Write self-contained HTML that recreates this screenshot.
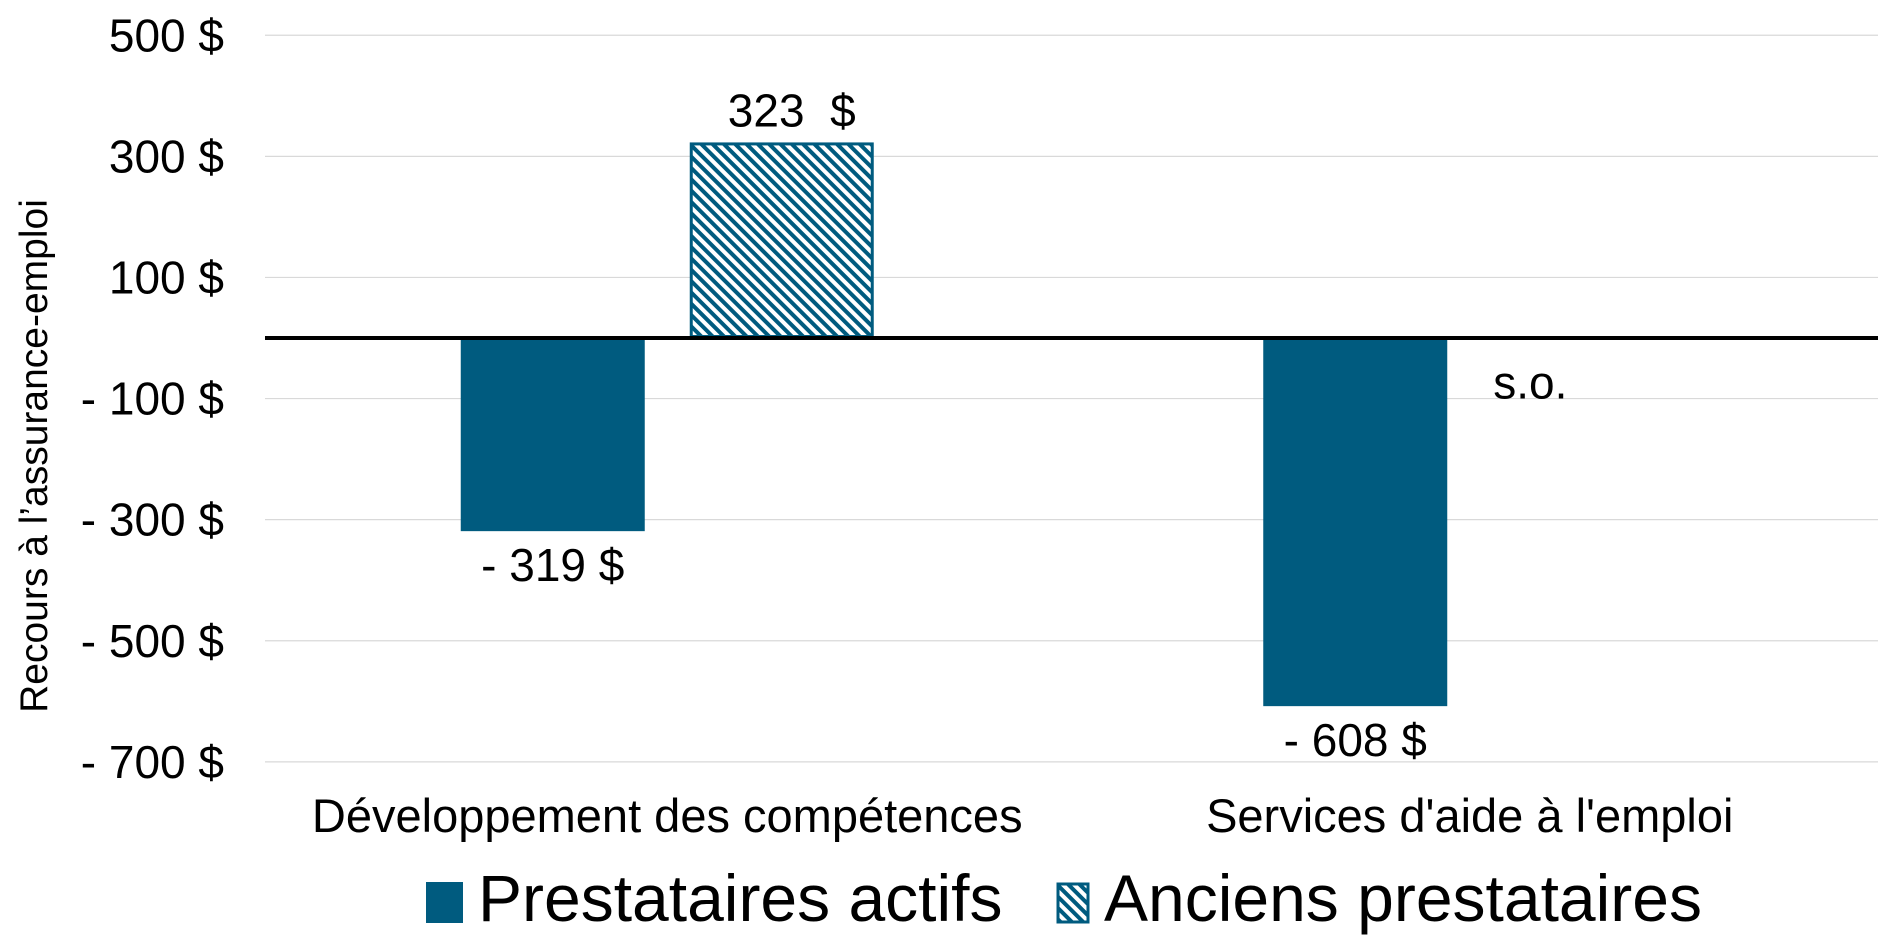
<!DOCTYPE html>
<html><head><meta charset="utf-8"><style>
html,body{margin:0;padding:0;background:#fff;}
svg{display:block;font-family:"Liberation Sans",Arial,sans-serif;}
text{white-space:pre;}
</style></head><body>
<svg id="chart" width="1890" height="945" viewBox="0 0 1890 945">
<defs>
<pattern id="hatch" patternUnits="userSpaceOnUse" width="8" height="8" patternTransform="rotate(-45)">
<rect width="8" height="8" fill="#fff"/>
<rect x="0" y="0" width="4" height="8" fill="#005b7f"/>
</pattern>
</defs>
<g id="grid"></g>
<g id="bars"></g>
<g id="labels"></g>
<text transform="translate(47,456) rotate(-90)" text-anchor="middle" font-size="39" fill="#000">Recours à l’assurance-emploi</text>
<g>
<g>
<rect x="426" y="882" width="37" height="41" fill="#005b7f"/>
<text x="478" y="921" font-size="66" fill="#000">Prestataires actifs</text>
</g>
<g>
<rect x="1058" y="884" width="30" height="38" fill="url(#hatch)" stroke="#005b7f" stroke-width="3"/>
<text x="1104" y="921" font-size="66" fill="#000">Anciens prestataires</text>
</g>
</g>
</svg>
<script>
const categories = ["Développement des compétences", "Services d'aide à l'emploi"];
const activeValues = [-319, -608];
const formerValues = [323, null];
const activeLabels = ["- 319 $", "- 608 $"];
const formerLabels = ["323  $", "s.o."];
const ticks = [500, 300, 100, -100, -300, -500, -700];
const tickLabels = ["500 $", "300 $", "100 $", "- 100 $", "- 300 $", "- 500 $", "- 700 $"];

const NS = "http://www.w3.org/2000/svg";
const gridL = 265, gridR = 1878;
const bandL = 266, bandR = 1871;
const y0 = 338, pxPer = 0.6055;
const y = v => y0 - v * pxPer;
const band = (bandR - bandL) / categories.length;
const xc = i => bandL + band * (i + 0.5);
const barW = 184, gap = 45;
function mk(tag, attrs, parent) {
  const e = document.createElementNS(NS, tag);
  for (const k in attrs) e.setAttribute(k, attrs[k]);
  parent.appendChild(e);
  return e;
}
const grid = document.getElementById('grid');
const bars = document.getElementById('bars');
const labels = document.getElementById('labels');
ticks.forEach((t, i) => {
  const l = mk('line', {x1: gridL, x2: gridR, y1: y(t), y2: y(t), stroke: '#d9d9d9', 'stroke-width': 1.2}, grid);
  
  
  const tx = mk('text', {x: 224, y: y(t) + 16, 'text-anchor': 'end', 'font-size': 46, fill: '#000'}, labels);
  tx.textContent = tickLabels[i];
  
  
});
categories.forEach((c, i) => {
  const cx = xc(i);
  const ax = cx - gap / 2 - barW;
  const av = activeValues[i];
  const r = mk('rect', {x: ax, y: Math.min(y(0), y(av)), width: barW, height: Math.abs(y(av) - y(0)), fill: '#005b7f'}, bars);
  
  
  const at = mk('text', {x: ax + barW / 2, y: y(av) + (av < 0 ? 50 : -14), 'text-anchor': 'middle', 'font-size': 46, fill: '#000'}, labels);
  at.textContent = activeLabels[i];
  
  
  const fx = cx + gap / 2;
  const fv = formerValues[i];
  if (fv !== null) {
    const r2 = mk('rect', {x: fx + 1.5, y: Math.min(y(0), y(fv)) + 1.5, width: barW - 3, height: Math.abs(y(fv) - y(0)) - 3, fill: 'url(#hatch)', stroke: '#005b7f', 'stroke-width': 3}, bars);
    
    
    const ft = mk('text', {x: fx + barW / 2 + 10, y: y(fv) - 16, 'text-anchor': 'middle', 'font-size': 46, fill: '#000'}, labels);
    ft.textContent = formerLabels[i];
    
    
  } else {
    const ft = mk('text', {x: fx + 1, y: y(-100), 'font-size': 46, fill: '#000'}, labels);
    ft.textContent = formerLabels[i];
    
    
  }
  const ct = mk('text', {x: cx, y: 832, 'text-anchor': 'middle', 'font-size': 47, fill: '#000'}, labels);
  ct.textContent = c;
  
  
});
const zl = mk('line', {x1: gridL, x2: gridR, y1: y(0), y2: y(0), stroke: '#000', 'stroke-width': 4}, bars);


</script>
</body></html>
